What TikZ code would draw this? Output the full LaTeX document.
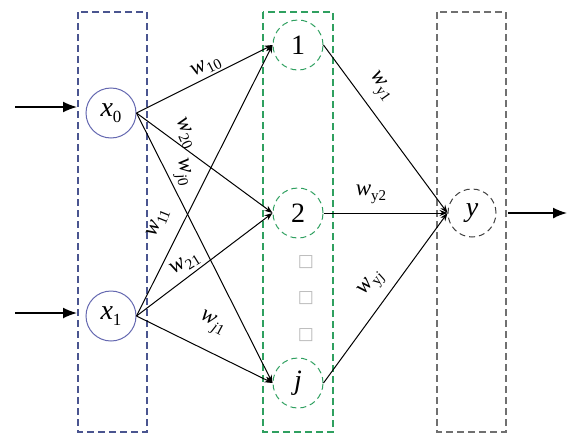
\documentclass[tikz,border=0pt]{standalone}
\usepackage{fontspec}
\setmainfont{Liberation Serif}
\newfontfamily\symfont{DejaVu Sans}
\usetikzlibrary{arrows.meta}
\definecolor{inblue}{HTML}{4A5590}
\definecolor{cblue}{HTML}{6468B0}
\definecolor{hgreen}{HTML}{2FA060}
\definecolor{ogray}{HTML}{707070}
\newcommand\wlab[1]{\textit{w}\raisebox{-0.45ex}{\fontsize{15}{15}\selectfont #1}}
\tikzset{
  layerbox/.style={dash pattern=on 7pt off 4pt, line width=1.1pt},
  neuron/.style={circle, minimum size=50pt, inner sep=0pt, line width=1pt, font=\fontsize{28}{28}\selectfont},
  dneuron/.style={neuron, dash pattern=on 6pt off 4pt},
  wire/.style={-{Stealth[length=8pt,width=6pt]}, line width=1pt},
  bigarrow/.style={-{Latex[length=14pt,width=11pt]}, line width=1.6pt},
  wl/.style={font=\fontsize{23}{23}\selectfont, inner sep=0pt}
}
\begin{document}
\begin{tikzpicture}[x=1pt,y=-1pt]
\useasboundingbox (0,0) rectangle (577,439);
% layer boxes
\draw[layerbox, inblue] (78,12) rectangle (147,432);
\draw[layerbox, hgreen] (263,12) rectangle (333,432);
\draw[layerbox, ogray] (437,12) rectangle (506,432);
% neurons
\node[neuron, draw=cblue] (x0) at (111,113) {\textit{x}\raisebox{-0.5ex}{\fontsize{17}{17}\selectfont 0}};
\node[neuron, draw=cblue] (x1) at (111,316) {\textit{x}\raisebox{-0.5ex}{\fontsize{17}{17}\selectfont 1}};
\node[dneuron, draw=hgreen] (n1) at (298,45) {1};
\node[dneuron, draw=hgreen] (n2) at (298,213) {2};
\node[dneuron, draw=hgreen] (nj) at (298,383) {\textit{j}};
\node[dneuron, draw=black!75, minimum size=48pt] (y) at (472,213) {\textit{y}};
% placeholder glyphs
\node[text=gray!55, font=\symfont\fontsize{17}{17}\selectfont, inner sep=0pt] (d1) at (306,262) {□};
\node[text=gray!55, font=\symfont\fontsize{17}{17}\selectfont, inner sep=0pt] (d2) at (306,298) {□};
\node[text=gray!55, font=\symfont\fontsize{17}{17}\selectfont, inner sep=0pt] (d3) at (306,335) {□};
% input / output arrows
\coordinate (i0s) at (15,107);
\coordinate (i0e) at (77,107);
\coordinate (i1s) at (15,313);
\coordinate (i1e) at (77,313);
\coordinate (os) at (508,213);
\coordinate (oe) at (567,213);
\draw[bigarrow] (i0s) -- (i0e);
\draw[bigarrow] (i1s) -- (i1e);
\draw[bigarrow] (os) -- (oe);
% weights
\draw[wire] (x0.east) -- (n1.west);
\draw[wire] (x0.east) -- (n2.west);
\draw[wire] (x0.east) -- (nj.west);
\draw[wire] (x1.east) -- (n1.west);
\draw[wire] (x1.east) -- (n2.west);
\draw[wire] (x1.east) -- (nj.west);
\draw[wire] (n1.east) -- (y.west);
\draw[wire] (n2.east) -- (y.west);
\draw[wire] (nj.east) -- (y.west);
% labels
\node[wl, rotate=27] (l10) at (206,67) {\wlab{10}};
\node[wl, rotate=-66] (l20) at (185,133) {\wlab{20}};
\node[wl, rotate=-78] (lj0) at (182,172) {\wlab{\textit{j}0}};
\node[wl, rotate=68] (l11) at (158,223) {\wlab{11}};
\node[wl, rotate=32] (l21) at (185,264) {\wlab{21}};
\node[wl, rotate=-28] (lj1) at (212,324) {\wlab{\textit{j}1}};
\node[wl, rotate=-55] (ly1) at (380,87) {\wlab{y1}};
\node[wl] (ly2) at (371,194) {\wlab{y2}};
\node[wl, rotate=52] (lyj) at (372,284) {\wlab{y\textit{j}}};
\end{tikzpicture}
\end{document}
